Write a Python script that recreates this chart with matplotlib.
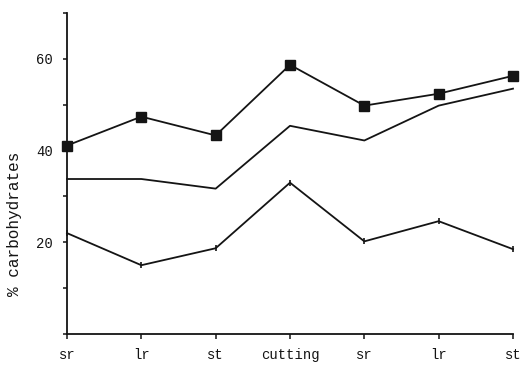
import matplotlib
matplotlib.use("Agg")
import matplotlib.pyplot as plt
from matplotlib.ticker import MultipleLocator

stages = ["sr", "lr", "st", "cutting", "sr", "lr", "st"]
series_square = [41.1, 47.4, 43.3, 58.7, 49.8, 52.4, 56.3]
series_plain = [33.8, 33.8, 31.7, 45.4, 42.2, 49.8, 53.5]
series_tick = [22.0, 15.0, 18.7, 33.0, 20.2, 24.6, 18.5]

plt.rcParams["font.family"] = ["Liberation Mono", "DejaVu Sans Mono"]
ink = "#141414"

fig = plt.figure(figsize=(5.26, 3.66), dpi=100)
ax = fig.add_axes([67 / 526, 32 / 366, 446 / 526, 321 / 366])

x = list(range(len(stages)))
ax.plot(x, series_square, color=ink, lw=1.3, marker="s", ms=6.5, clip_on=False)
ax.plot(x, series_plain, color=ink, lw=1.3, clip_on=False)
ax.plot(x, series_tick, color=ink, lw=1.3, marker="|", ms=5, mew=1.2, clip_on=False)

ax.set_xlim(0, len(stages) - 1)
ax.set_ylim(0, 70)
ax.set_xticks(x)
ax.set_xticklabels(stages, fontsize=10, color=ink)
ax.set_yticks([20, 40, 60])
ax.set_yticklabels(["20", "40", "60"], fontsize=10, color=ink)
ax.yaxis.set_minor_locator(MultipleLocator(10))
ax.tick_params(axis="y", which="major", length=3, width=1.1, pad=7, colors=ink)
ax.tick_params(axis="y", which="minor", length=3, width=1.1, colors=ink)
ax.tick_params(axis="x", length=3.6, width=1.1, pad=6.5, colors=ink)

ax.set_ylabel("% carbohydrates", fontsize=11.5, color=ink, va="center")
ax.yaxis.set_label_coords(-52 / 446, (334 - 224) / 321)

for side in ("top", "right"):
    ax.spines[side].set_visible(False)
for side in ("left", "bottom"):
    ax.spines[side].set_linewidth(1.3)
    ax.spines[side].set_color(ink)

fig.savefig("out.png", dpi=100, facecolor="white")
